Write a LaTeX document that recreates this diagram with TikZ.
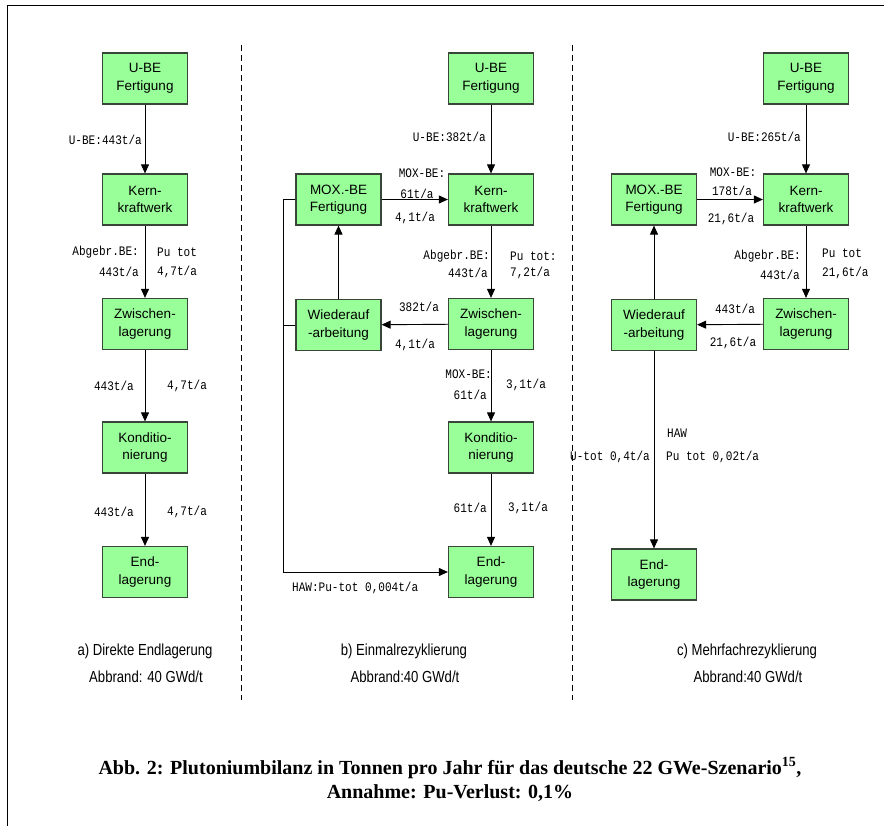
\documentclass[tikz,border=0pt]{standalone}
\usepackage{fontspec}
\setmainfont{Liberation Sans}
\newfontfamily\monofnt[FakeStretch=0.85]{Liberation Mono}
\newfontfamily\narrowfnt[FakeStretch=0.82]{Liberation Sans}
\newfontfamily\capfnt{Liberation Serif}
\usetikzlibrary{arrows.meta}
\definecolor{boxfill}{RGB}{153,255,153}
\definecolor{boxline}{RGB}{55,70,55}
\begin{document}
\begin{tikzpicture}[x=1pt,y=-1pt,
  box/.style={draw=boxline, fill=boxfill, line width=1.2pt, minimum width=85pt, minimum height=51pt, inner sep=0pt, align=center, font=\fontsize{13.5}{17.5}\selectfont},
  arr/.style={-{Triangle[length=9pt,width=8pt]}, line width=0.9pt},
  ln/.style={line width=0.9pt},
  lab/.style={font=\monofnt\fontsize{13}{15}\selectfont, inner sep=0pt},
  sublab/.style={font=\narrowfnt\fontsize{16}{18}\selectfont, inner sep=0pt},
  sep/.style={dashed, dash pattern=on 6pt off 4pt, line width=0.7pt},
  captxt/.style={inner sep=0pt, font=\capfnt\bfseries\fontsize{20}{24}\selectfont}
]
\useasboundingbox (0,0) rectangle (884,826);
\draw[line width=1pt] (7,826) -- (7,6) -- (884,6);
\draw[sep] (241,45) -- (241,700);
\draw[sep] (572,45) -- (572,700);

% ---------- panel a
\node[box] (au) at (145,78.5) {U-BE\\Fertigung};
\node[box] (ak) at (145,199.5) {Kern-\\kraftwerk};
\node[box] (az) at (145,324) {Zwischen-\\lagerung};
\node[box] (ao) at (145,447.5) {Konditio-\\nierung};
\node[box] (ae) at (145,572) {End-\\lagerung};
\draw[arr] (au) -- (ak);
\draw[arr] (ak) -- (az);
\draw[arr] (az) -- (ao);
\draw[arr] (ao) -- (ae);
\node[lab, anchor=east] (a1) at (142,140) {U-BE:443t/a};
\node[lab, anchor=east] (a2) at (139,252) {Abgebr.BE:};
\node[lab, anchor=east] (a3) at (139,272) {443t/a};
\node[lab, anchor=west] (a4) at (157,252) {Pu tot};
\node[lab, anchor=west] (a5) at (157,272) {4,7t/a};
\node[lab, anchor=east] (a6) at (134,386) {443t/a};
\node[lab, anchor=west] (a7) at (167,386) {4,7t/a};
\node[lab, anchor=east] (a8) at (134,512) {443t/a};
\node[lab, anchor=west] (a9) at (167,512) {4,7t/a};
\node[sublab] (at1) at (145,651) {a) Direkte Endlagerung};
\node[sublab] (at2) at (146,677) {Abbrand: 40 GWd/t};

% ---------- panel b
\node[box] (bu) at (491,78.5) {U-BE\\Fertigung};
\node[box] (bk) at (491,199.5) {Kern-\\kraftwerk};
\node[box] (bz) at (491,324) {Zwischen-\\lagerung};
\node[box] (bo) at (491,447.5) {Konditio-\\nierung};
\node[box] (be) at (491,572) {End-\\lagerung};
\node[box] (bm) at (338.5,199.5) {MOX.-BE\\Fertigung};
\node[box] (bw) at (338.5,325) {Wiederauf\\-arbeitung};
\coordinate (bf) at (283,572);
\draw[arr] (bu) -- (bk);
\draw[arr] (bk) -- (bz);
\draw[arr] (bz) -- (bo);
\draw[arr] (bo) -- (be);
\draw[arr] (bm) -- (bk);
\draw[arr] (bz) -- (bw);
\draw[arr] (bw) -- (bm);
\draw[arr] (bm.west) -- (bm.west -| bf) -- (bf) -- (be.west);
\draw[ln] (bw.west) -- (bw.west -| bf);
\node[lab, anchor=east] (b1) at (486,137) {U-BE:382t/a};
\node[lab] (b2) at (422,173) {MOX-BE:};
\node[lab] (b3) at (417,194) {61t/a};
\node[lab] (b4) at (415,218) {4,1t/a};
\node[lab, anchor=east] (b5) at (490,256) {Abgebr.BE:};
\node[lab, anchor=east] (b6) at (488,273) {443t/a};
\node[lab, anchor=west] (b7) at (510,256) {Pu tot:};
\node[lab, anchor=west] (b8) at (510,273) {7,2t/a};
\node[lab] (b9) at (419,307) {382t/a};
\node[lab] (b10) at (415,345) {4,1t/a};
\node[lab, anchor=east] (b11) at (492,374) {MOX-BE:};
\node[lab, anchor=east] (b12) at (487,395) {61t/a};
\node[lab, anchor=west] (b13) at (506,385) {3,1t/a};
\node[lab, anchor=east] (b14) at (487,508) {61t/a};
\node[lab, anchor=west] (b15) at (508,508) {3,1t/a};
\node[lab, anchor=west] (b16) at (292,588) {HAW:Pu-tot 0,004t/a};
\node[sublab] (bt1) at (404,651) {b) Einmalrezyklierung};
\node[sublab] (bt2) at (405,677) {Abbrand:40 GWd/t};

% ---------- panel c
\node[box] (cu) at (806,78.5) {U-BE\\Fertigung};
\node[box] (ck) at (806,199.5) {Kern-\\kraftwerk};
\node[box] (cz) at (806,324) {Zwischen-\\lagerung};
\node[box] (cm) at (654,199.5) {MOX.-BE\\Fertigung};
\node[box] (cw) at (654,325) {Wiederauf\\-arbeitung};
\node[box] (ce) at (654,574.5) {End-\\lagerung};
\draw[arr] (cu) -- (ck);
\draw[arr] (ck) -- (cz);
\draw[arr] (cm) -- (ck);
\draw[arr] (cz) -- (cw);
\draw[arr] (cw) -- (cm);
\draw[arr] (cw) -- (ce);
\node[lab, anchor=east] (c1) at (801,137) {U-BE:265t/a};
\node[lab] (c2) at (733,172) {MOX-BE:};
\node[lab] (c3) at (732,191) {178t/a};
\node[lab] (c4) at (731,219) {21,6t/a};
\node[lab, anchor=east] (c5) at (801,256) {Abgebr.BE:};
\node[lab, anchor=east] (c6) at (800,275) {443t/a};
\node[lab, anchor=west] (c7) at (822,253) {Pu tot};
\node[lab, anchor=west] (c8) at (822,273) {21,6t/a};
\node[lab] (c9) at (735,309) {443t/a};
\node[lab] (c10) at (733,343) {21,6t/a};
\node[lab, anchor=west] (c11) at (667,433) {HAW};
\node[lab, anchor=west] (c12) at (666,457) {Pu tot 0,02t/a};
\node[lab, anchor=east] (c13) at (650,457) {U-tot 0,4t/a};
\node[sublab] (ct1) at (747,651) {c) Mehrfachrezyklierung};
\node[sublab] (ct2) at (748,677) {Abbrand:40 GWd/t};

% ---------- caption
\node[captxt] (cap1) at (450,768) {Abb. 2: Plutoniumbilanz in Tonnen pro Jahr für das deutsche 22 GWe-Szenario\textsuperscript{15},};
\node[captxt] (cap2) at (450,793) {Annahme: Pu-Verlust: 0,1\%};
\end{tikzpicture}
\end{document}
